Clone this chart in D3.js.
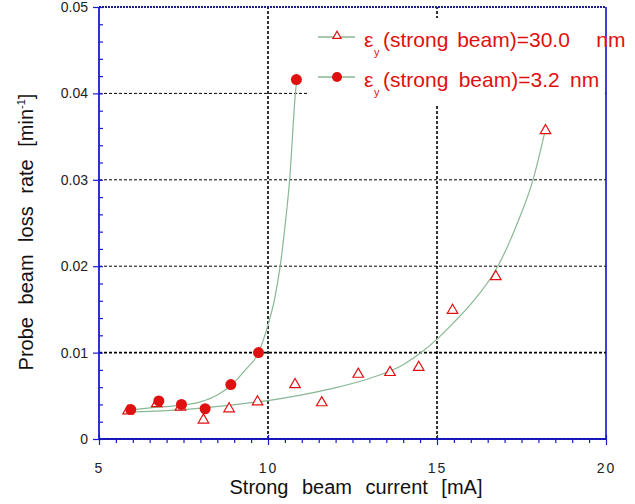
<!DOCTYPE html>
<html><head><meta charset="utf-8">
<script src="https://cdn.jsdelivr.net/npm/d3@7/dist/d3.min.js"></script>
<style>
body{margin:0;background:#fff;}
svg{display:block;font-family:"Liberation Sans",Arial,sans-serif;}
</style></head>
<body>
<svg id="c" width="635" height="504"></svg>
<script>
// ---- data ----
const xMajorTicks = [5, 10, 15, 20];
const yMajorTicks = [0, 0.01, 0.02, 0.03, 0.04, 0.05];
const yTickLabels = ["0", "0.01", "0.02", "0.03", "0.04", "0.05"];
const xTickLabels = ["5", "10", "15", "20"];

// ε_y = 30.0 nm (triangles)
const tri30X = [5.86, 6.71, 7.41, 8.09, 8.85, 9.69, 10.80, 11.59, 12.67, 13.61, 14.46, 15.46, 16.74, 18.21];
const tri30Y = [0.00325, 0.0041, 0.0037, 0.0022, 0.0035, 0.0043, 0.0063, 0.0042, 0.0075, 0.0077, 0.0083, 0.0149, 0.0188, 0.0357];
// ε_y = 3.2 nm (circles)
const dot32X = [5.94, 6.77, 7.44, 8.14, 8.90, 9.72, 10.84];
const dot32Y = [0.0034, 0.0044, 0.0040, 0.0035, 0.0063, 0.0100, 0.0416];

// fitted curves
const fit30X = [5.85, 6.5, 7.6, 8.83, 10.0, 11.0, 11.85, 13.0, 14.0, 14.53, 15.0, 15.5, 16.0, 16.8, 17.4, 17.84, 18.2];
const fit30Y = [0.0031, 0.0032, 0.00344, 0.0039, 0.00444, 0.0051, 0.0058, 0.0070, 0.0086, 0.0100, 0.01156, 0.0135, 0.0156, 0.0200, 0.0252, 0.0300, 0.0357];
const fit32X = [5.85, 6.5, 7.3, 8.0, 8.5, 8.9, 9.33, 9.72, 10.0, 10.19, 10.36, 10.5, 10.64, 10.81, 10.85];
const fit32Y = [0.0033, 0.0036, 0.00386, 0.0043, 0.0051, 0.0062, 0.0080, 0.0100, 0.0132, 0.0161, 0.0200, 0.0245, 0.0300, 0.0400, 0.0416];

const legendLabels = ["(strong beam)=30.0\u00a0\u00a0\u00a0nm", "(strong beam)=3.2\u00a0nm"];

// ---- drawing ----
const svg = d3.select("#c");
const x = d3.scaleLinear().domain([5, 20]).range([99, 606]);
const y = d3.scaleLinear().domain([0, 0.05]).range([439, 7]);
const blue = "#1a1ad0", red = "#e01010", green = "#88b894";

// gridlines
const grid = svg.append("g").attr("stroke", "#000").attr("stroke-width", 1).attr("stroke-dasharray", "3,2");
grid.selectAll("line.h").data(yMajorTicks.filter(v => v > 0 && v < 0.05)).join("line")
  .attr("x1", x(5)).attr("x2", x(20)).attr("y1", d => y(d)).attr("y2", d => y(d))
  .attr("stroke-width", d => d === 0.01 ? 1.6 : 1);
grid.selectAll("line.v").data([10, 15]).join("line")
  .attr("x1", d => x(d)).attr("x2", d => x(d)).attr("y1", y(0)).attr("y2", y(0.05))
  .attr("stroke-width", 1.6);

// legend background
svg.append("rect").attr("x", 308).attr("y", 18).attr("width", 297).attr("height", 88).attr("fill", "#fff");

// frame
svg.append("line").attr("x1", x(5)).attr("x2", x(20)).attr("y1", y(0.05)).attr("y2", y(0.05))
  .attr("stroke", "#20208a").attr("stroke-width", 2).attr("stroke-dasharray", "2,1");
svg.append("line").attr("x1", x(20)).attr("x2", x(20)).attr("y1", y(0.05)).attr("y2", y(0))
  .attr("stroke", "#0000cc").attr("stroke-width", 1.5);

// axes
const minorX = d3.range(10, 41).map(v => v / 2).filter(v => !xMajorTicks.includes(v));
const minorY = d3.range(0, 26).map(v => v * 0.002).filter(v => !yMajorTicks.some(m => Math.abs(m - v) < 1e-9));

const gxMinor = svg.append("g").attr("transform", `translate(0,${y(0)})`)
  .call(d3.axisBottom(x).tickValues(minorX).tickSize(4).tickFormat(""));
const gxMajorTop = svg.append("g").attr("transform", `translate(0,${y(0)})`)
  .call(d3.axisTop(x).tickValues(xMajorTicks).tickSize(4).tickFormat(""));
const gx = svg.append("g").attr("transform", `translate(0,${y(0)})`)
  .call(d3.axisBottom(x).tickValues(xMajorTicks).tickSize(6).tickPadding(18)
    .tickFormat((d, i) => xTickLabels[i]));
const gyMinor = svg.append("g").attr("transform", `translate(${x(5)},0)`)
  .call(d3.axisRight(y).tickValues(minorY).tickSize(4).tickFormat(""));
const gyMajorIn = svg.append("g").attr("transform", `translate(${x(5)},0)`)
  .call(d3.axisRight(y).tickValues(yMajorTicks).tickSize(4).tickFormat(""));
const gy = svg.append("g").attr("transform", `translate(${x(5)},0)`)
  .call(d3.axisLeft(y).tickValues(yMajorTicks).tickSize(6).tickPadding(5)
    .tickFormat((d, i) => yTickLabels[i]));

[gxMinor, gxMajorTop, gx, gyMinor, gyMajorIn, gy].forEach(g => {
  g.select(".domain").remove();
  g.selectAll(".tick line").attr("stroke", blue).attr("stroke-width", 1.2);
  g.selectAll(".tick text").attr("fill", "#222").attr("font-size", 14)
    .attr("font-family", "'Liberation Sans', Arial, sans-serif");
});
gx.selectAll(".tick text").attr("letter-spacing", "2px");

svg.append("line").attr("x1", x(5)).attr("x2", x(20)).attr("y1", y(0)).attr("y2", y(0))
  .attr("stroke", blue).attr("stroke-width", 2);
svg.append("line").attr("x1", x(5)).attr("x2", x(20)).attr("y1", y(0)).attr("y2", y(0))
  .attr("stroke", "#10106a").attr("stroke-width", 1).attr("stroke-dasharray", "2,2");
svg.append("line").attr("x1", x(5)).attr("x2", x(5)).attr("y1", y(0)).attr("y2", y(0.05))
  .attr("stroke", blue).attr("stroke-width", 1.8);

// fit curves
const line = d3.line().x(d => x(d[0])).y(d => y(d[1])).curve(d3.curveMonotoneX);
svg.append("path").datum(d3.zip(fit30X, fit30Y)).attr("d", line)
  .attr("fill", "none").attr("stroke", green).attr("stroke-width", 1.2);
svg.append("path").datum(d3.zip(fit32X, fit32Y)).attr("d", line)
  .attr("fill", "none").attr("stroke", green).attr("stroke-width", 1.2);

// markers
const triSym = d3.symbol().type(d3.symbolTriangle).size(48);
svg.append("g").selectAll("path").data(d3.zip(tri30X, tri30Y)).join("path")
  .attr("d", triSym).attr("transform", d => `translate(${x(d[0])},${y(d[1])})`)
  .attr("fill", "#fff").attr("stroke", red).attr("stroke-width", 1.2);
svg.append("g").selectAll("circle").data(d3.zip(dot32X, dot32Y)).join("circle")
  .attr("cx", d => x(d[0])).attr("cy", d => y(d[1])).attr("r", 5.5).attr("fill", red);

// legend
const lg = svg.append("g");
const rows = [37, 77];
rows.forEach((ry, i) => {
  lg.append("line").attr("x1", 318).attr("x2", 355).attr("y1", ry).attr("y2", ry)
    .attr("stroke", green).attr("stroke-width", 1.5);
  if (i === 0) {
    lg.append("path").attr("d", d3.symbol().type(d3.symbolTriangle).size(30))
      .attr("transform", `translate(337,${ry - 1})`).attr("fill", "#fff").attr("stroke", red).attr("stroke-width", 1.2);
  } else {
    lg.append("circle").attr("cx", 337).attr("cy", ry).attr("r", 5).attr("fill", red);
  }
  const base = ry + 10;
  lg.append("text").attr("x", 364).attr("y", base).attr("fill", red).attr("font-size", 21).text("\u03b5");
  lg.append("text").attr("x", 374).attr("y", base + 9).attr("fill", red).attr("font-size", 11).text("y");
  lg.append("text").attr("x", 383).attr("y", base).attr("fill", red).attr("font-size", 21)
    .attr("word-spacing", i === 0 ? "3px" : "4.5px").text(legendLabels[i]);
});

// axis titles
svg.append("text").attr("x", 356).attr("y", 494).attr("text-anchor", "middle")
  .attr("font-size", 20).attr("fill", "#111").attr("word-spacing", "8px")
  .text("Strong beam current [mA]");
const yt = svg.append("text").attr("transform", "translate(33,232) rotate(-90)")
  .attr("text-anchor", "middle").attr("font-size", 20).attr("fill", "#111").attr("word-spacing", "7px");
yt.append("tspan").text("Probe beam loss rate [min");
yt.append("tspan").attr("font-size", 11).attr("dy", -8).text("-1");
yt.append("tspan").attr("dy", 8).text("]");
</script>
</body></html>
